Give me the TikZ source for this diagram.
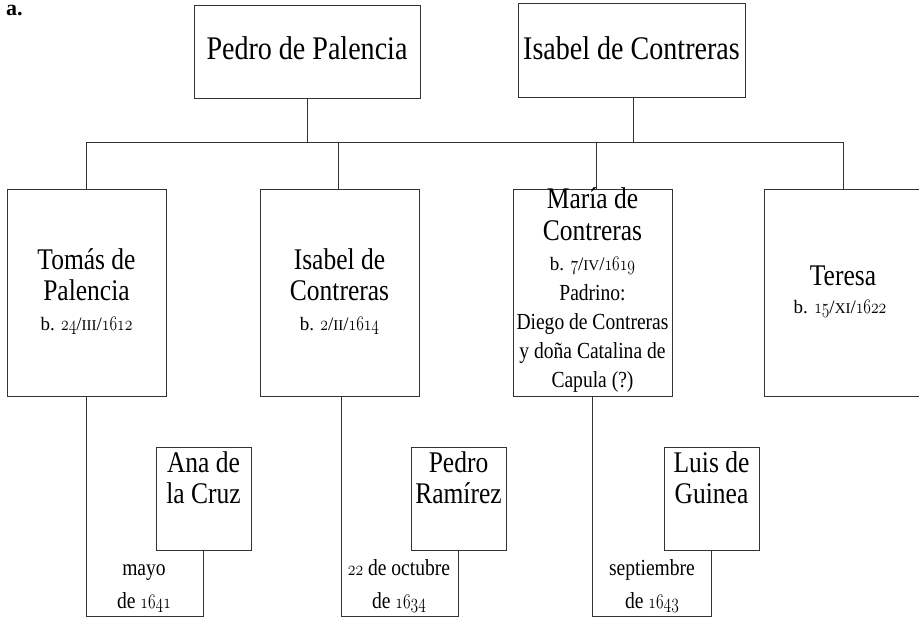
\documentclass[tikz,border=0pt]{standalone}
\usepackage{fontspec}
\usepackage{graphicx}
\setmainfont{Liberation Serif}
\newfontfamily\nmfont{Liberation Serif}[FakeStretch=0.85]
\newcommand\os[1]{\scalebox{0.75}[1]{\fontsize{22}{22}\usefont{OML}{lmm}{m}{it}#1}}
\newcommand\rn[1]{{\fontsize{15}{15}\selectfont #1}}
\begin{document}
\begin{tikzpicture}[x=1pt,y=-1pt,
  boxline/.style={draw=black!80,line width=0.9pt,inner sep=0pt},
  topbox/.style={boxline,minimum width=226pt,minimum height=93pt},
  kidbox/.style={boxline,minimum width=159pt,minimum height=207pt},
  spbox/.style={boxline,minimum width=95pt,minimum height=103pt},
  conn/.style={draw=black!80,line width=0.9pt},
  bigtxt/.style={anchor=base,inner sep=0pt,font={\nmfont\fontsize{33}{33}\selectfont}},
  nmtxt/.style={anchor=base,inner sep=0pt,font={\nmfont\fontsize{30}{30}\selectfont}},
  smtxt/.style={anchor=base,inner sep=0pt,font={\nmfont\fontsize{23}{23}\selectfont}},
  dttxt/.style={anchor=base,inner sep=0pt,font={\fontsize{19}{19}\selectfont}}]
\useasboundingbox (0,0) rectangle (919,618);
\node[anchor=base west,inner sep=0pt,font={\bfseries\fontsize{22}{22}\selectfont}] (lab) at (6,16) {a.};
% parents
\node[topbox] (pp) at (307,51.5) {};
\node[topbox,minimum width=227pt,minimum height=94pt] (ic) at (631.5,50) {};
\node[bigtxt] (ppt) at (307,60) {Pedro de Palencia};
\node[bigtxt] (ict) at (631.5,60) {Isabel de Contreras};
% children
\node[kidbox] (tom) at (86.5,292.5) {};
\node[kidbox] (isa) at (339.5,292.5) {};
\node[kidbox] (mar) at (592.5,292.5) {};
\node[kidbox] (ter) at (843.5,292.5) {};
% spouses
\node[spbox] (ana) at (203.5,498.5) {};
\node[spbox] (pra) at (458.5,498.5) {};
\node[spbox] (lui) at (711.5,498.5) {};
% connectors
\coordinate (hl) at (0,142);
\coordinate (bl) at (0,616);
\draw[conn] (pp.south) -- (pp.south |- hl);
\draw[conn] ([xshift=1.5pt]ic.south) -- ([xshift=1.5pt]ic.south |- hl);
\draw[conn] (tom.north |- hl) -- (ter.north |- hl);
\draw[conn] (tom.north) -- (tom.north |- hl);
\draw[conn] ([xshift=-1.5pt]isa.north) -- ([xshift=-1.5pt]isa.north |- hl);
\draw[conn] ([xshift=3.5pt]mar.north) -- ([xshift=3.5pt]mar.north |- hl);
\draw[conn] (ter.north) -- (ter.north |- hl);
\draw[conn] (tom.south) -- (tom.south |- bl) -| (ana.south);
\draw[conn] ([xshift=1.5pt]isa.south) -- ([xshift=1.5pt]isa.south |- bl) -| (pra.south);
\draw[conn] (mar.south) -- (mar.south |- bl) -| (lui.south);
% Tomas
\node[nmtxt] (t1) at (86.5,269) {Tomás de};
\node[nmtxt] (t2) at (86.5,300) {Palencia};
\node[dttxt] (t3) at (86.5,330) {b. \os{24}/\rn{III}/\os{1612}};
% Isabel
\node[nmtxt] (i1) at (339.5,269) {Isabel de};
\node[nmtxt] (i2) at (339.5,300) {Contreras};
\node[dttxt] (i3) at (339.5,330) {b. \os{2}/\rn{II}/\os{1614}};
% Maria
\node[nmtxt] (m1) at (592.5,208) {María de};
\node[nmtxt] (m2) at (592.5,240) {Contreras};
\node[dttxt] (m3) at (592.5,270) {b. \os{7}/\rn{IV}/\os{1619}};
\node[smtxt] (m4) at (592.5,300) {Padrino:};
\node[smtxt] (m5) at (592.5,329) {Diego de Contreras};
\node[smtxt] (m6) at (592.5,358) {y doña Catalina de};
\node[smtxt] (m7) at (592.5,387) {Capula (?)};
% Teresa
\node[nmtxt] (r1) at (843,285) {Teresa};
\node[dttxt] (r2) at (840,313) {b. \os{15}/\rn{XI}/\os{1622}};
% spouses text
\node[nmtxt] (a1) at (203.5,472) {Ana de};
\node[nmtxt] (a2) at (203.5,503) {la Cruz};
\node[nmtxt] (p1) at (458.5,472) {Pedro};
\node[nmtxt] (p2) at (458.5,503) {Ramírez};
\node[nmtxt] (l1) at (711.5,472) {Luis de};
\node[nmtxt] (l2) at (711.5,503) {Guinea};
% marriage dates
\node[smtxt] (d1) at (144,575) {mayo};
\node[smtxt] (d2) at (144,608) {de \os{1641}};
\node[smtxt] (d3) at (399,575) {\os{22} de octubre};
\node[smtxt] (d4) at (399,608) {de \os{1634}};
\node[smtxt] (d5) at (652,575) {septiembre};
\node[smtxt] (d6) at (652,608) {de \os{1643}};
\end{tikzpicture}
\end{document}
